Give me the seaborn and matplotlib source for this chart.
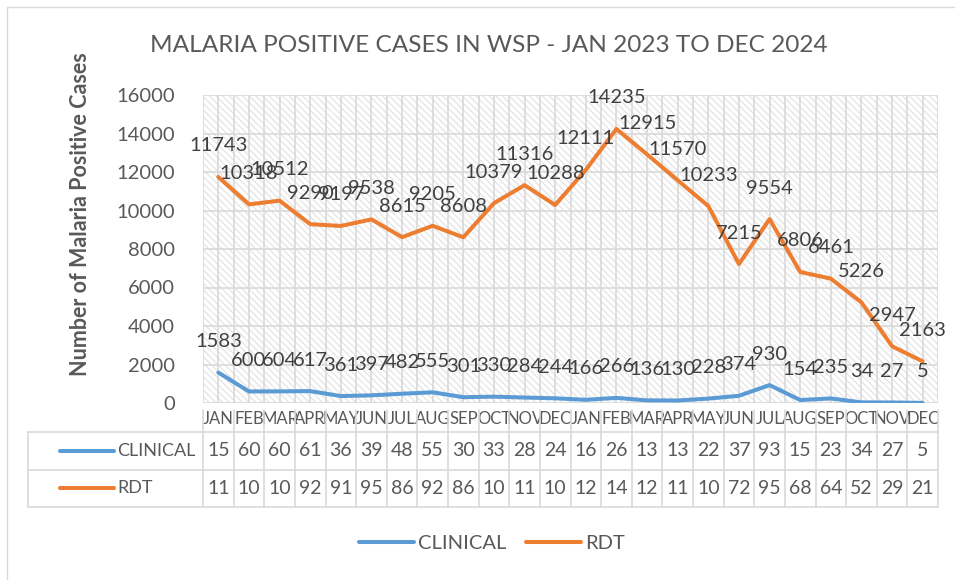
import matplotlib
matplotlib.use("Agg")
import matplotlib.pyplot as plt
import seaborn as sns
import pandas as pd
from matplotlib.lines import Line2D
from matplotlib.patches import Rectangle

months = ["JAN", "FEB", "MAR", "APR", "MAY", "JUN", "JUL", "AUG", "SEP", "OCT", "NOV", "DEC",
          "JAN", "FEB", "MAR", "APR", "MAY", "JUN", "JUL", "AUG", "SEP", "OCT", "NOV", "DEC"]
clinical = [1583, 600, 604, 617, 361, 397, 482, 555, 301, 330, 284, 244,
            166, 266, 136, 130, 228, 374, 930, 154, 235, 34, 27, 5]
rdt = [11743, 10318, 10512, 9290, 9197, 9538, 8615, 9205, 8608, 10379, 11316, 10288,
       12111, 14235, 12915, 11570, 10233, 7215, 9554, 6806, 6461, 5226, 2947, 2163]
series_names = ["CLINICAL", "RDT"]
colors = {"CLINICAL": "#5b9bd5", "RDT": "#ed7d31"}

sns.set_theme(style="white")
plt.rcParams['font.family'] = ['Lato', 'DejaVu Sans']
plt.rcParams['hatch.linewidth'] = 0.9
plt.rcParams['hatch.color'] = '#e4e4e4'

W, H = 955, 580
txt = "#595959"

# long form data
df = pd.DataFrame({
    "idx": list(range(len(months))) * 2,
    "value": clinical + rdt,
    "series": ["CLINICAL"] * len(clinical) + ["RDT"] * len(rdt),
})

fig = plt.figure(figsize=(W / 100, H / 100), dpi=100)

# outer chart border
fig.add_artist(Rectangle((7 / W, -0.1), 1.2, 1 - 7 / H + 0.1, transform=fig.transFigure,
                         fill=False, edgecolor="#d9d9d9", linewidth=1))

def px_axes(x0, y0, x1, y1):
    return fig.add_axes([x0 / W, 1 - y1 / H, (x1 - x0) / W, (y1 - y0) / H])

ax = px_axes(203, 95, 938, 403)
ax.add_patch(Rectangle((0, 0), 1, 1, transform=ax.transAxes, facecolor="white",
                       hatch="\\\\\\\\\\", edgecolor="#e4e4e4", linewidth=0, zorder=0))

sns.lineplot(data=df, x="idx", y="value", hue="series", palette=colors, ax=ax,
             linewidth=2.9, legend=False, zorder=3)

ax.set_xlim(-0.5, len(months) - 0.5)
ax.set_ylim(0, 16000)
ax.set_yticks(range(0, 16001, 2000))
ax.set_yticklabels([str(v) for v in range(0, 16001, 2000)], color=txt, fontsize=14.5)
ax.set_xticks(range(len(months)))
ax.set_xticklabels(months, color=txt, fontsize=12)
ax.tick_params(axis="both", length=0, pad=6)
ax.tick_params(axis="y", pad=20)

for v in range(0, 16001, 2000):
    ax.axhline(v, color="#d9d9d9", linewidth=1.2, zorder=1)
for i in range(len(months) * 2 + 1):
    ax.axvline(i / 2 - 0.5, color="#d9d9d9", linewidth=1.2, zorder=1)
for s in ax.spines.values():
    s.set_visible(False)

for name, vals in zip(series_names, [clinical, rdt]):
    for i, v in enumerate(vals):
        ax.annotate(str(v), (i, v), xytext=(0, 31), textcoords="offset pixels",
                    ha="center", va="center", fontsize=14.5, color="#404040", zorder=4)

ax.set_xlabel("")
ax.set_ylabel("Number of Malaria Positive Cases", fontsize=15.5, fontweight="bold", color=txt)
ax.yaxis.set_label_coords(-0.152, 0.614)

fig.text(489 / W, 1 - 45 / H, "MALARIA POSITIVE CASES IN WSP - JAN 2023 TO DEC 2024",
         ha="center", va="center", fontsize=17.6, color=txt)

# data table below the axis
tab = px_axes(28, 432, 938, 507)
unit = 735 / len(months)
left = -0.5 - (203 - 28) / unit
tab.set_xlim(left, len(months) - 0.5)
tab.set_ylim(2, 0)
tab.axis("off")
gc = "#d9d9d9"
for y in [0, 1, 2]:
    tab.plot([left, len(months) - 0.5], [y, y], color=gc, linewidth=1.2, clip_on=False)
tab.plot([left, left], [0, 2], color=gc, linewidth=1.2, clip_on=False)
for i in range(len(months) + 1):
    tab.plot([i - 0.5, i - 0.5], [-0.6, 2], color=gc, linewidth=1.2, clip_on=False)
for r, (name, vals) in enumerate(zip(series_names, [clinical, rdt])):
    yc = r + 0.5
    tab.plot([(60 - 203) / unit - 0.5, (114 - 203) / unit - 0.5], [yc, yc],
             color=colors[name], linewidth=2.9, solid_capstyle="round")
    tab.text((117 - 203) / unit - 0.5, yc, name, ha="left", va="center",
             fontsize=13, color=txt)
    for i, v in enumerate(vals):
        tab.text(i, yc, str(v)[:2], ha="center", va="center", fontsize=14, color=txt)

handles = [Line2D([], [], color=colors[n], linewidth=2.9) for n in series_names]
fig.legend(handles, series_names, loc="center", bbox_to_anchor=(492 / W, 1 - 543 / H),
           ncol=2, frameon=False, fontsize=14.5, handlelength=2.7, columnspacing=1.0,
           labelcolor=txt, handletextpad=0.2)

fig.savefig("out.png", dpi=100)
